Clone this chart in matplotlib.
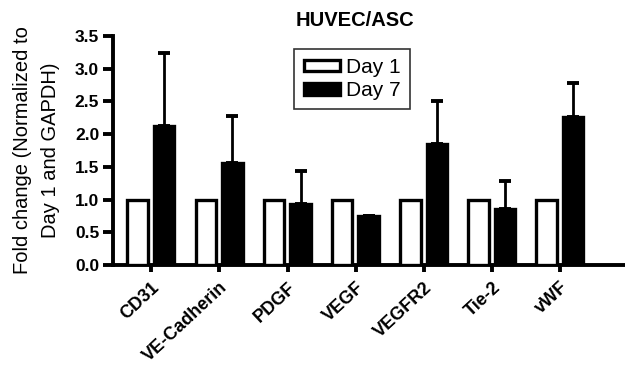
import numpy as np
import matplotlib.pyplot as plt

plt.rcParams['font.family'] = ['Liberation Sans', 'DejaVu Sans']

genes = ['CD31', 'VE-Cadherin', 'PDGF', 'VEGF', 'VEGFR2', 'Tie-2', 'vWF']
day1 = [1.0, 1.0, 1.0, 1.0, 1.0, 1.0, 1.0]
day7 = [2.13, 1.56, 0.93, 0.75, 1.85, 0.86, 2.26]
day7_err = [1.11, 0.72, 0.51, 0.0, 0.66, 0.42, 0.52]

fig = plt.figure(figsize=(6.25, 3.67), dpi=100)
ax = fig.add_axes([0.181, 0.278, 0.819, 0.624])

x = np.arange(len(genes))
w = 0.3
ax.bar(x - 0.2, day1, w, color='white', edgecolor='black', linewidth=2.4, label='Day 1', zorder=3)
ax.bar(x + 0.19, day7, w, color='black', edgecolor='black', linewidth=2.4, label='Day 7', zorder=3)
# upper error bars only
ax.errorbar(x + 0.19, day7, yerr=[np.zeros(len(genes)), day7_err], fmt='none',
            ecolor='black', elinewidth=2, capsize=4, capthick=2.8, zorder=2)

ax.set_xlim(-0.56, 6.95)
ax.set_ylim(0, 3.5)
ax.set_yticks(np.arange(0, 3.6, 0.5))
ax.set_yticklabels(['%.1f' % v for v in np.arange(0, 3.6, 0.5)], fontsize=12.5, fontweight='bold')
ax.set_xticks(x)
ax.set_xticklabels(genes, rotation=43, ha='right', va='top', rotation_mode='anchor',
                   fontsize=13, fontweight='bold')

for s in ['top', 'right']:
    ax.spines[s].set_visible(False)
for s in ['left', 'bottom']:
    ax.spines[s].set_linewidth(2.8)
ax.tick_params(axis='y', length=7, width=2.8, pad=3)
ax.tick_params(axis='x', length=5, width=2.8, pad=5)

ax.set_ylabel('Fold change (Normalized to\nDay 1 and GAPDH)', fontsize=14.5, linespacing=1.6, labelpad=11)
ax.set_title('HUVEC/ASC', fontsize=14.5, fontweight='bold', pad=7, x=0.473)

leg = ax.legend(loc='upper center', bbox_to_anchor=(0.467, 0.945), fontsize=15,
                frameon=True, fancybox=False, edgecolor='black', handlelength=1.75,
                handleheight=0.5, borderpad=0.45, labelspacing=0.2, handletextpad=0.3,
                borderaxespad=0)
leg.get_frame().set_linewidth(1.2)

fig.savefig('out.png', dpi=100)
